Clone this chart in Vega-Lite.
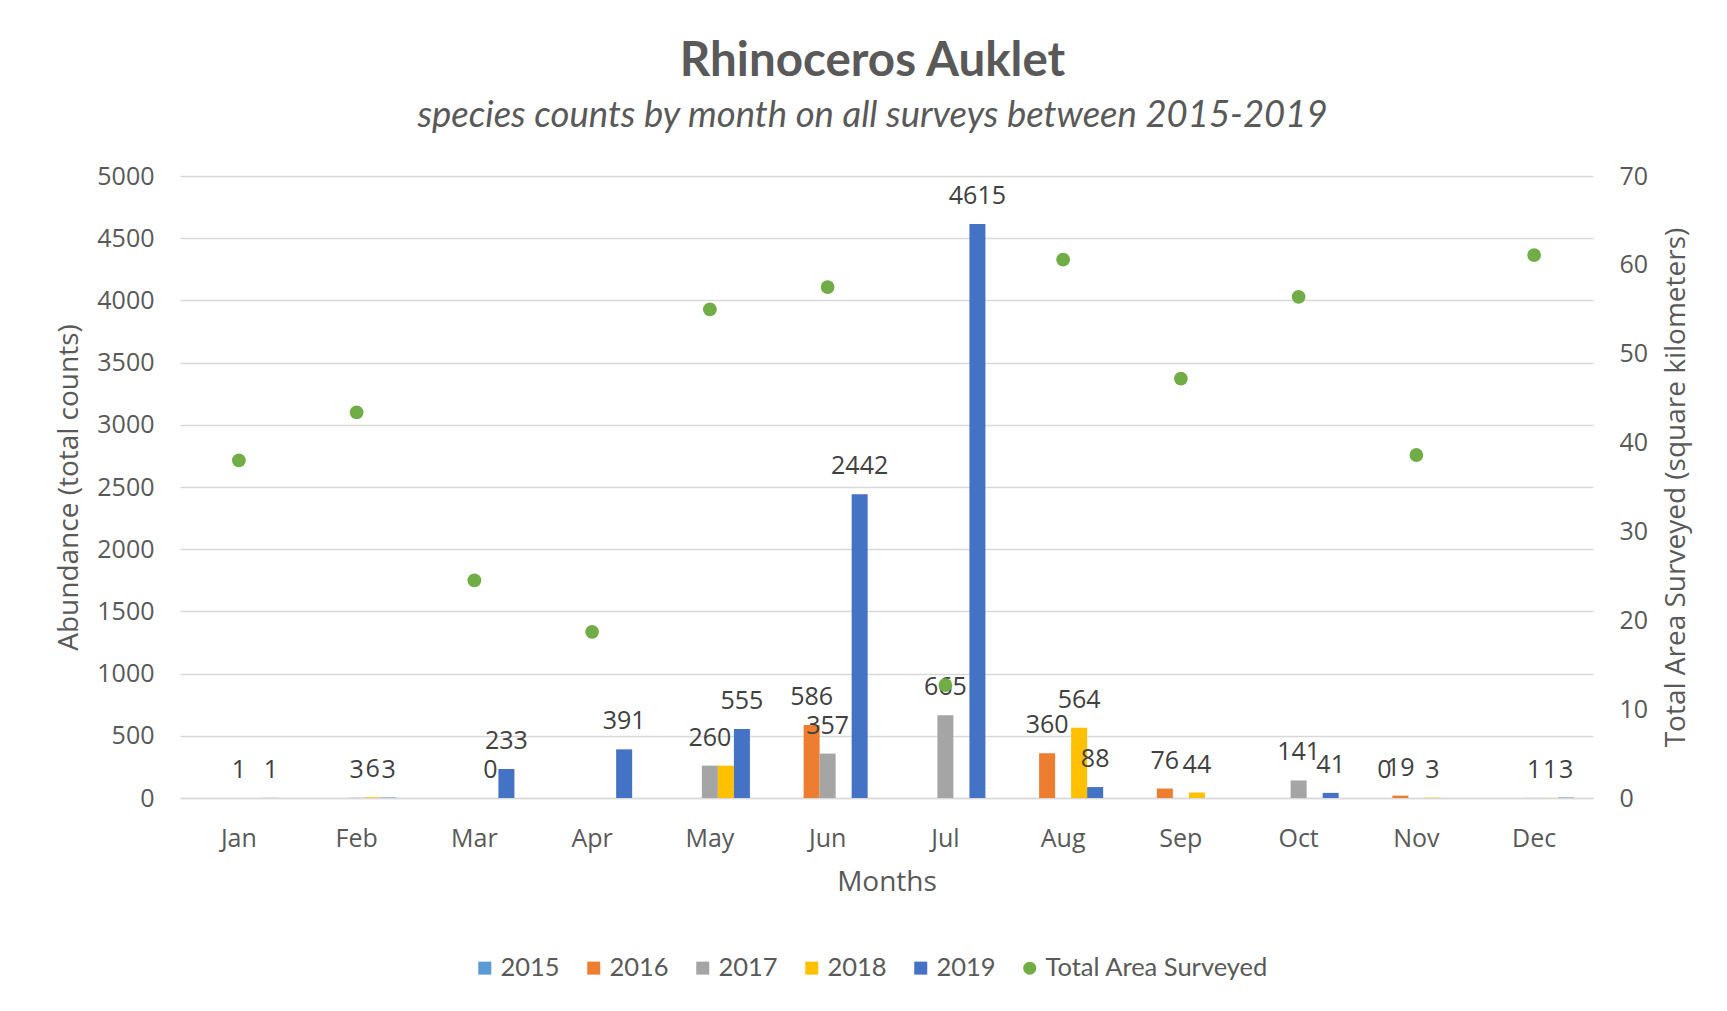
{
  "$schema": "https://vega.github.io/schema/vega-lite/v6.json",
  "width": 1413,
  "height": 622,
  "autosize": {"type": "none"},
  "padding": {"left": 180, "top": 176, "right": 134, "bottom": 213},
  "background": "white",
  "config": {"view": {"stroke": null}, "font": "Open Sans"},
  "title": {
    "text": "Rhinoceros Auklet",
    "subtitle": "species counts by month on all surveys between 2015-2019",
    "anchor": "middle",
    "frame": "group",
    "dx": -14,
    "offset": 30,
    "font": "Lato",
    "fontSize": 47.5,
    "fontWeight": "bold",
    "color": "#595959",
    "subtitleFont": "Lato",
    "subtitleFontSize": 36.5,
    "subtitleFontStyle": "italic",
    "subtitleColor": "#595959",
    "subtitlePadding": 12
  },
  "datasets": {
    "bars": [
      {"month": "Jan", "year": "2017", "value": 1, "label": "1"},
      {"month": "Jan", "year": "2019", "value": 1, "label": "1"},
      {"month": "Feb", "year": "2017", "value": 3, "label": "3"},
      {"month": "Feb", "year": "2018", "value": 6, "label": "6"},
      {"month": "Feb", "year": "2019", "value": 3, "label": "3"},
      {"month": "Mar", "year": "2018", "value": 0, "label": "0"},
      {"month": "Mar", "year": "2019", "value": 233, "label": "233"},
      {"month": "Apr", "year": "2019", "value": 391, "label": "391"},
      {"month": "May", "year": "2017", "value": 260, "label": "260"},
      {"month": "May", "year": "2018", "value": 260, "label": null},
      {"month": "May", "year": "2019", "value": 555, "label": "555"},
      {"month": "Jun", "year": "2016", "value": 586, "label": "586"},
      {"month": "Jun", "year": "2017", "value": 357, "label": "357"},
      {"month": "Jun", "year": "2019", "value": 2442, "label": "2442"},
      {"month": "Jul", "year": "2017", "value": 665, "label": "665"},
      {"month": "Jul", "year": "2019", "value": 4615, "label": "4615"},
      {"month": "Aug", "year": "2016", "value": 360, "label": "360"},
      {"month": "Aug", "year": "2018", "value": 564, "label": "564"},
      {"month": "Aug", "year": "2019", "value": 88, "label": "88"},
      {"month": "Sep", "year": "2016", "value": 76, "label": "76"},
      {"month": "Sep", "year": "2018", "value": 44, "label": "44"},
      {"month": "Oct", "year": "2017", "value": 141, "label": "141"},
      {"month": "Oct", "year": "2019", "value": 41, "label": "41"},
      {"month": "Nov", "year": "2015", "value": 0, "label": "0"},
      {"month": "Nov", "year": "2016", "value": 19, "label": "19"},
      {"month": "Nov", "year": "2018", "value": 3, "label": "3"},
      {"month": "Dec", "year": "2017", "value": 1, "label": "1"},
      {"month": "Dec", "year": "2018", "value": 1, "label": "1"},
      {"month": "Dec", "year": "2019", "value": 3, "label": "3"}
    ],
    "area": [
      {"month": "Jan", "area": 38.0},
      {"month": "Feb", "area": 43.4},
      {"month": "Mar", "area": 24.5},
      {"month": "Apr", "area": 18.7},
      {"month": "May", "area": 55.0},
      {"month": "Jun", "area": 57.5},
      {"month": "Jul", "area": 12.7},
      {"month": "Aug", "area": 60.6},
      {"month": "Sep", "area": 47.2},
      {"month": "Oct", "area": 56.4},
      {"month": "Nov", "area": 38.6},
      {"month": "Dec", "area": 61.1}
    ]
  },
  "encoding": {
    "x": {
      "field": "month",
      "type": "nominal",
      "sort": ["Jan","Feb","Mar","Apr","May","Jun","Jul","Aug","Sep","Oct","Nov","Dec"],
      "scale": {"domain": ["Jan","Feb","Mar","Apr","May","Jun","Jul","Aug","Sep","Oct","Nov","Dec"], "paddingInner": 0.32, "paddingOuter": 0.16},
      "axis": {
        "title": "Months",
        "labelAngle": 0,
        "ticks": false,
        "domainColor": "#D9D9D9",
        "domainWidth": 1.5,
        "labelFont": "Open Sans",
        "labelFontSize": 25,
        "labelColor": "#595959",
        "labelPadding": 28,
        "titleFont": "Open Sans",
        "titleFontSize": 28,
        "titleFontWeight": "normal",
        "titleColor": "#595959",
        "titlePadding": 17
      }
    }
  },
  "layer": [
    {
      "data": {"name": "bars"},
      "encoding": {
        "y": {
          "field": "value",
          "type": "quantitative",
          "scale": {"domain": [0, 5000], "nice": false},
          "axis": {
            "title": "Abundance (total counts)",
            "values": [0,500,1000,1500,2000,2500,3000,3500,4000,4500,5000],
            "format": "d",
            "ticks": false,
            "domain": false,
            "grid": true,
            "gridColor": "#D9D9D9",
            "gridWidth": 1.5,
            "labelFont": "Open Sans",
            "labelFontSize": 25,
            "labelColor": "#595959",
            "labelPadding": 26,
            "titleFont": "Open Sans",
            "titleFontSize": 28,
            "titleFontWeight": "normal",
            "titleColor": "#595959",
            "titlePadding": 13
          }
        },
        "xOffset": {
          "field": "year",
          "type": "nominal",
          "scale": {"domain": ["2015","2016","2017","2018","2019"], "paddingInner": 0, "paddingOuter": 0}
        }
      },
      "layer": [
        {
          "mark": {"type": "bar"},
          "encoding": {
            "color": {
              "field": "year",
              "type": "nominal",
              "scale": {
                "domain": ["2015","2016","2017","2018","2019","Total Area Surveyed"],
                "range": ["#5B9BD5","#ED7D31","#A5A5A5","#FFC000","#4472C4","#70AD47"]
              },
              "legend": {
                "orient": "none",
                "legendX": 292,
                "legendY": 779,
                "direction": "horizontal",
                "columns": 6,
                "title": null,
                "symbolType": "square",
                "symbolSize": 169,
                "symbolStrokeWidth": 0,
                "labelFont": "Lato",
                "labelFontSize": 25.5,
                "labelColor": "#595959",
                "labelOffset": 3,
                "columnPadding": 21,
                "labelLimit": 400,
                "encode": {
                  "symbols": {
                    "update": {
                      "shape": {"signal": "datum.value === 'Total Area Surveyed' ? 'circle' : 'square'"}
                    }
                  }
                }
              }
            }
          }
        },
        {
          "transform": [{"filter": "datum.label != null"}],
          "mark": {"type": "text", "baseline": "middle", "align": "center", "dy": -28, "font": "Open Sans", "fontSize": 25, "color": "#404040"},
          "encoding": {"text": {"field": "label", "type": "nominal"}}
        }
      ]
    },
    {
      "data": {"name": "area"},
      "mark": {"type": "circle", "size": 190, "opacity": 1},
      "encoding": {
        "y": {
          "field": "area",
          "type": "quantitative",
          "scale": {"domain": [0, 70], "nice": false},
          "axis": {
            "orient": "right",
            "title": "Total Area Surveyed (square kilometers)",
            "values": [0,10,20,30,40,50,60,70],
            "ticks": false,
            "domain": false,
            "grid": false,
            "labelFont": "Open Sans",
            "labelFontSize": 25,
            "labelColor": "#595959",
            "labelPadding": 26,
            "titleFont": "Open Sans",
            "titleFontSize": 28,
            "titleFontWeight": "normal",
            "titleColor": "#595959",
            "titleAngle": 270,
            "titleBaseline": "top",
            "titlePadding": 15
          }
        },
        "color": {"datum": "Total Area Surveyed", "type": "nominal"}
      }
    }
  ],
  "resolve": {"scale": {"y": "independent"}}
}
